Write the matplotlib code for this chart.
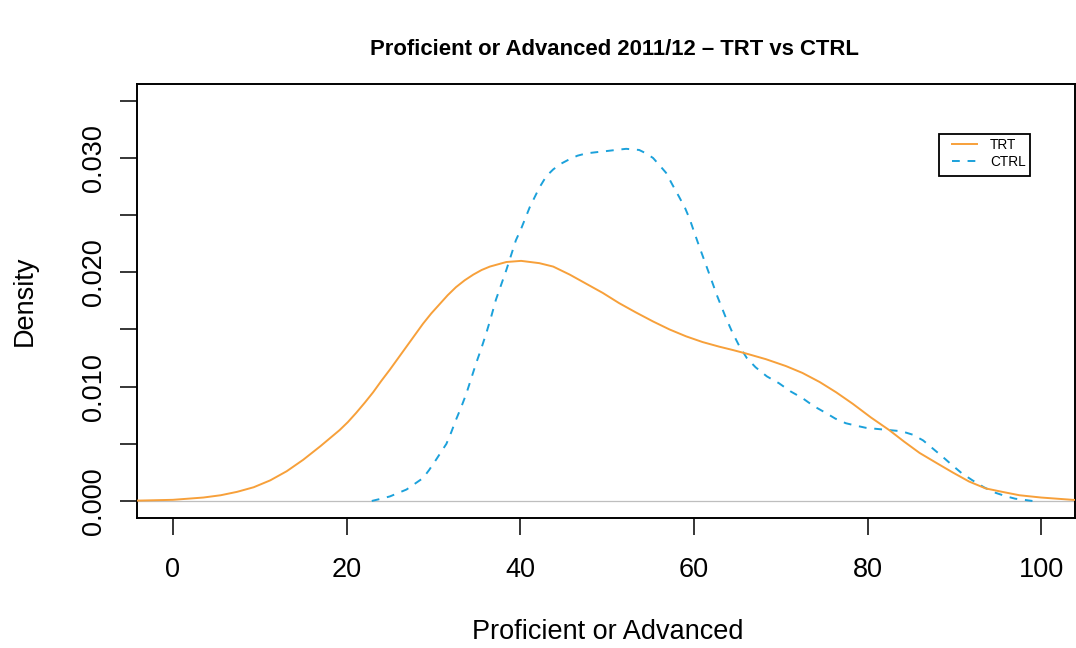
import numpy as np
import matplotlib
matplotlib.use("Agg")
import matplotlib.pyplot as plt
from matplotlib.ticker import FixedLocator
from matplotlib.patches import Rectangle
from matplotlib.lines import Line2D

plt.rcParams['font.family'] = ['Liberation Sans', 'DejaVu Sans']

# density curves
trt_x = [-6.0, -4.1, 0.0, 3.5, 5.5, 7.4, 9.3, 11.2, 13.1, 15.0, 16.0, 17.0, 18.1,
         19.2, 20.15, 21.1, 22.1, 23.05, 24.0, 25.0, 25.95, 26.9, 27.85, 28.8,
         29.75, 30.7, 31.65, 32.6, 33.6, 34.6, 35.55, 36.5, 37.45, 38.4, 40.1,
         42.2, 43.8, 45.7, 47.6, 49.5, 51.4, 53.3, 55.3, 57.2, 59.1, 61.0, 62.9,
         64.5, 66.0, 68.3, 70.6, 72.5, 74.5, 76.4, 78.3, 80.4, 82.5, 84.2, 86.0,
         88.0, 89.8, 91.7, 93.6, 95.5, 97.5, 100.0, 103.6, 106.0]
trt_y = [0.00002, 0.00003, 0.0001, 0.0003, 0.0005, 0.0008, 0.0012, 0.0018, 0.0026,
         0.0036, 0.0042, 0.0048, 0.0055, 0.0062, 0.0069, 0.0077, 0.0086, 0.0095,
         0.0105, 0.0115, 0.0125, 0.0135, 0.0145, 0.0155, 0.0164, 0.0172, 0.0180,
         0.0187, 0.0193, 0.0198, 0.0202, 0.0205, 0.0207, 0.0209, 0.0210, 0.0208,
         0.0205, 0.0198, 0.0190, 0.0182, 0.0173, 0.0165, 0.0157, 0.0150, 0.0144,
         0.0139, 0.0135, 0.0132, 0.0129, 0.0124, 0.0118, 0.0112, 0.0104, 0.0095,
         0.0085, 0.0073, 0.0062, 0.0052, 0.0042, 0.0033, 0.0025, 0.0017, 0.0011,
         0.0008, 0.0005, 0.0003, 0.0001, 0.00005]

ctrl_x = [22.9, 24.0, 25.0, 26.9, 27.85, 28.8, 29.5, 30.3, 30.9, 31.5, 32.05, 32.6,
          33.2, 33.8, 34.35, 34.9, 35.5, 36.1, 36.65, 37.2, 37.8, 38.4, 38.95, 39.5,
          40.1, 41.1, 42.2, 43.0, 43.8, 44.7, 45.7, 46.6, 47.6, 48.7, 49.9, 51.0,
          52.2, 53.7, 54.5, 55.3, 56.0, 56.8, 57.5, 58.3, 59.0, 59.5, 60.0, 60.6,
          61.8, 62.7, 63.7, 64.4, 65.2, 66.1, 67.1, 68.4, 69.8, 71.1, 72.5, 73.8,
          75.2, 76.3, 77.5, 78.6, 79.8, 81.1, 82.5, 83.9, 85.2, 86.4, 87.5, 88.6,
          89.8, 90.9, 92.1, 93.4, 94.8, 96.0, 97.0, 98.0, 99.0]
ctrl_y = [0.0, 0.0002, 0.0004, 0.0010, 0.0015, 0.0020, 0.0027, 0.0036, 0.0043,
          0.0050, 0.0060, 0.0071, 0.0082, 0.0094, 0.0107, 0.0120, 0.0133, 0.0147,
          0.0161, 0.0176, 0.0189, 0.0202, 0.0215, 0.0228, 0.0238, 0.0257, 0.0274,
          0.0284, 0.0290, 0.0295, 0.0299, 0.0302, 0.0304, 0.0305, 0.0306, 0.0307,
          0.0308, 0.0307, 0.0304, 0.0300, 0.0294, 0.0287, 0.0277, 0.0266, 0.0256,
          0.0247, 0.0236, 0.0223, 0.0198, 0.0179, 0.0160, 0.0148, 0.0136, 0.0125,
          0.0117, 0.0109, 0.0103, 0.0096, 0.0090, 0.0083, 0.0077, 0.0072, 0.0068,
          0.0066, 0.0064, 0.0063, 0.0062, 0.0061, 0.0058, 0.0053, 0.0046, 0.0039,
          0.0031, 0.0024, 0.0018, 0.0012, 0.0007, 0.0004, 0.0002, 0.0001, 0.0]

x_ticks = [0, 20, 40, 60, 80, 100]
y_ticks = [0.0, 0.005, 0.010, 0.015, 0.020, 0.025, 0.030, 0.035]
y_ticklabels = ['0.000', '', '0.010', '', '0.020', '', '0.030', '']
series_names = ['TRT', 'CTRL']

orange = '#F7A03A'
blue = '#1BA1DB'
ctrl_dash = (0, (4, 4))

W, H = 1076, 648
fig = plt.figure(figsize=(W / 100, H / 100), dpi=100)
ax = fig.add_axes([137 / W, 130 / H, 938 / W, 434 / H])

ax.axhline(0, color='#BEBEBE', lw=0.9, zorder=1)
ax.plot(trt_x, trt_y, color=orange, lw=1.4, zorder=3)
ax.plot(ctrl_x, ctrl_y, color=blue, lw=1.4, linestyle=ctrl_dash, zorder=2)

ax.set_xlim(-4.14, 103.9)
ax.set_ylim(-0.00149, 0.03647)

ax.xaxis.set_major_locator(FixedLocator(x_ticks))
ax.set_xticklabels([str(v) for v in x_ticks])
ax.yaxis.set_major_locator(FixedLocator(y_ticks))
ax.set_yticklabels(y_ticklabels, rotation=90, va='center')

ax.tick_params(axis='both', direction='out', length=12.2, width=1.1,
               labelsize=19.5, color='black')
ax.tick_params(axis='x', pad=16)
ax.tick_params(axis='y', pad=9.5)

for sp in ax.spines.values():
    sp.set_linewidth(1.4)
    sp.set_color('black')

ax.set_title('Proficient or Advanced 2011/12 \u2013 TRT vs CTRL',
             fontsize=15.9, fontweight='bold', pad=21, x=(614 - 137) / 938)
ax.set_xlabel('Proficient or Advanced', fontsize=19.5, va='center')
ax.xaxis.set_label_coords((608 - 137) / 938, (518 - 632) / 434)
ax.set_ylabel('Density', fontsize=19.5, va='center')
ax.yaxis.set_label_coords((25 - 137) / 938, 0.5)

# legend box drawn by hand, R style (pixel positions of the reference)
fig.patches.append(Rectangle((939 / W, 1 - 176 / H), 91 / W, 42 / H,
                             transform=fig.transFigure, facecolor='white',
                             edgecolor='black', lw=1.3, zorder=5))
row_y = [144, 160.7]
row_style = [(orange, '-'), (blue, ctrl_dash)]
for name, ry, (col, ls) in zip(series_names, row_y, row_style):
    fig.lines.append(Line2D([952 / W, 977 / W], [1 - ry / H] * 2,
                            transform=fig.transFigure, color=col, lw=1.4,
                            linestyle=ls, zorder=6))
    fig.text(990 / W, 1 - (ry + 5) / H, name, fontsize=9.8, va='baseline',
             ha='left', zorder=6)

fig.savefig('out.png', dpi=100)
